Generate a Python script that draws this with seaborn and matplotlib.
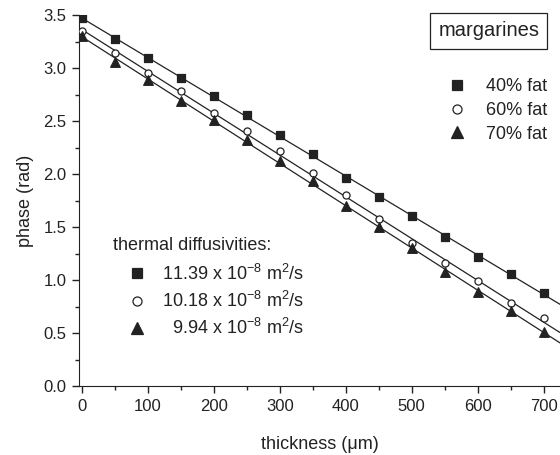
import numpy as np
import pandas as pd
import matplotlib.pyplot as plt
import seaborn as sns
from matplotlib.lines import Line2D
from matplotlib.ticker import MultipleLocator

sns.set_style("ticks")
plt.rcParams['font.family'] = ['Liberation Sans', 'DejaVu Sans']
plt.rcParams['mathtext.fontset'] = 'custom'
plt.rcParams['mathtext.rm'] = 'Liberation Sans'
plt.rcParams['mathtext.it'] = 'Liberation Sans'

# thickness (um)
thickness = [0, 50, 100, 150, 200, 250, 300, 350, 400, 450, 500, 550, 600, 650, 700]
# phase (rad) for each margarine
fat40 = [3.47, 3.27, 3.09, 2.91, 2.74, 2.56, 2.37, 2.19, 1.96, 1.78, 1.60, 1.41, 1.22, 1.06, 0.88]
fat60 = [3.35, 3.14, 2.95, 2.78, 2.58, 2.41, 2.22, 2.01, 1.80, 1.58, 1.35, 1.16, 0.99, 0.78, 0.64]
fat70 = [3.30, 3.06, 2.89, 2.69, 2.51, 2.32, 2.12, 1.93, 1.70, 1.50, 1.30, 1.08, 0.89, 0.71, 0.51]
labels = ['40% fat', '60% fat', '70% fat']
diffusivities = ['11.39', '10.18', '9.94']

ink = '#222222'
series = [(fat40, 's', ink, 30), (fat60, 'o', 'white', 26), (fat70, '^', ink, 48)]

fig = plt.figure(figsize=(5.6, 4.55), dpi=100)
ax = fig.add_axes([0.141, 0.1516, 0.859, 0.8154])

xs = np.linspace(0, 730, 50)
for (vals, mk, fc, sz), lab in zip(series, labels):
    df = pd.DataFrame({'thickness': thickness, 'phase': vals})
    k, b = np.polyfit(df.thickness, df.phase, 1)
    ax.plot(xs, k * xs + b, color=ink, lw=0.9, zorder=1)
    sns.scatterplot(data=df, x='thickness', y='phase', marker=mk, s=sz,
                    facecolor=fc, edgecolor=ink, linewidth=0.9, ax=ax, zorder=3)

ax.set_xlim(-4.5, 725)
ax.set_ylim(0, 3.5)
ax.xaxis.set_major_locator(MultipleLocator(100))
ax.xaxis.set_minor_locator(MultipleLocator(50))
ax.yaxis.set_major_locator(MultipleLocator(0.5))
ax.yaxis.set_minor_locator(MultipleLocator(0.25))
ax.tick_params(which='both', direction='out', colors=ink, labelsize=12, width=1)
ax.tick_params(which='major', length=5, pad=4)
ax.tick_params(which='minor', length=3)
sns.despine(ax=ax)
for sp in ax.spines.values():
    sp.set_color(ink)
ax.set_xlabel('thickness (μm)', fontsize=13, color=ink, labelpad=16)
ax.set_ylabel('phase (rad)', fontsize=13, color=ink, labelpad=7)

handles = []
for vals, mk, fc, sz in series:
    handles.append(Line2D([], [], ls='none', marker=mk, markersize=6.5 if mk != '^' else 8.5,
                          markerfacecolor=fc, markeredgecolor=ink, markeredgewidth=0.9))

ax.text(0.852, 0.957, 'margarines', transform=ax.transAxes, ha='center', va='center',
        fontsize=14.5, color=ink,
        bbox=dict(boxstyle='square,pad=0.4', fc='white', ec=ink, lw=0.9))
leg1 = ax.legend(handles, labels, loc='upper left', bbox_to_anchor=(0.763, 0.83),
                 frameon=False, fontsize=13, handletextpad=1.0, labelspacing=0.38,
                 labelcolor=ink, handlelength=1.2, borderaxespad=0, borderpad=0)
ax.add_artist(leg1)

ax.text(0.0707, 0.380, 'thermal diffusivities:', transform=ax.transAxes,
        ha='left', va='center', fontsize=13, color=ink)
diff_labels = [f'{d} x 10$^{{-8}}$ m$^2$/s' for d in diffusivities]
diff_labels[2] = '  ' + diff_labels[2]
leg2 = ax.legend(handles, diff_labels, loc='upper left', bbox_to_anchor=(0.098, 0.33),
                 frameon=False, fontsize=13, handletextpad=0.78, labelspacing=0.4,
                 labelcolor=ink, handlelength=1.2, borderaxespad=0, borderpad=0)

fig.savefig('out.png', dpi=100)
